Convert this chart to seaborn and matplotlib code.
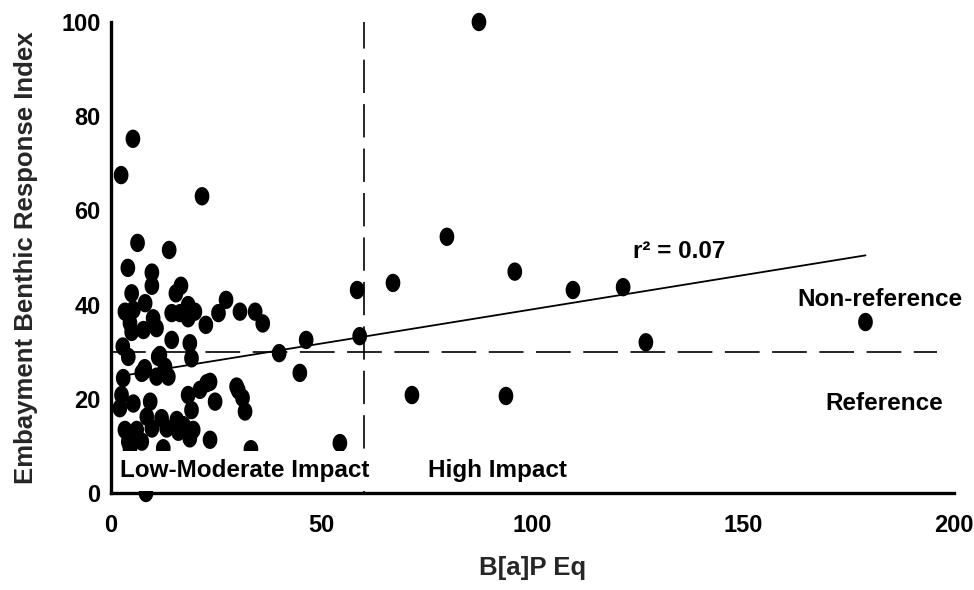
import numpy as np
import pandas as pd
import seaborn as sns
import matplotlib.pyplot as plt
from matplotlib.path import Path

# B[a]P equivalents (x) and Embayment Benthic Response Index (y) per station
bap_eq = [
    2.4, 5.2, 21.6, 6.3, 13.8, 4.0, 9.7, 9.7, 16.6, 15.4,
    4.9, 8.1, 3.3, 5.3, 4.5, 4.9, 7.7, 10.0, 10.8, 14.4,
    16.4, 18.3, 19.9, 18.3, 22.5, 25.5, 27.3, 30.6, 34.2, 36.0,
    14.4, 18.7, 19.1, 11.6, 12.8, 2.8, 4.1, 39.9, 2.9, 7.7,
    10.8, 13.6, 23.5, 29.8, 2.5, 2.1, 5.3, 9.3, 18.3, 21.1,
    24.7, 30.2, 31.2, 31.8, 8.5, 12.0, 15.6, 19.1, 3.3, 6.1,
    9.7, 13.2, 16.0, 17.2, 19.5, 18.7, 23.5, 4.1, 7.3, 12.4,
    4.5, 33.2, 8.3, 54.3, 44.8, 46.3, 59.0, 58.4, 66.9, 79.7,
    87.3, 95.8, 109.6, 121.5, 126.9, 179.0, 71.4, 93.7, 22.7, 7.3,
    11.2, 8.0,
]
ebri = [
    67.5, 75.2, 63.0, 53.1, 51.6, 47.8, 46.8, 44.0, 44.0, 42.4,
    42.4, 40.3, 38.5, 38.9, 36.1, 34.2, 34.6, 37.1, 35.0, 38.2,
    38.2, 39.9, 38.5, 37.1, 35.7, 38.2, 41.0, 38.5, 38.5, 36.0,
    32.5, 31.8, 28.6, 29.3, 26.8, 31.1, 28.9, 29.7, 24.4, 25.8,
    24.7, 24.7, 23.6, 22.6, 20.8, 18.0, 19.0, 19.4, 20.8, 21.9,
    19.4, 21.8, 20.2, 17.3, 16.2, 15.9, 15.5, 17.6, 13.4, 13.4,
    13.7, 13.7, 13.0, 14.4, 13.4, 11.6, 11.3, 10.9, 10.9, 9.5,
    9.5, 9.3, 0.0, 10.6, 25.5, 32.5, 33.3, 43.1, 44.6, 54.4,
    100.0, 47.0, 43.1, 43.7, 32.0, 36.3, 20.8, 20.6, 23.3, 25.5,
    28.9, 26.5,
]

# Least-squares fit reported on the chart
fit_intercept = 24.5
fit_slope = 0.145
r_squared = 0.07

# Classification thresholds
reference_threshold = 30   # EBRI: reference / non-reference
impact_threshold = 60      # B[a]P Eq: low-moderate / high impact

x_ticks = [0, 50, 100, 150, 200]
y_ticks = [0, 20, 40, 60, 80, 100]

df = pd.DataFrame({"bap": bap_eq, "ebri": ebri})

sns.set_style("white")
plt.rcParams["font.family"] = ["Liberation Sans", "DejaVu Sans"]
plt.rcParams["font.weight"] = "bold"
plt.rcParams["lines.scale_dashes"] = False

fig = plt.figure(figsize=(9.74, 5.9), dpi=100)
ax = fig.add_axes([111 / 974, 1 - 493 / 590, (954 - 111) / 974, (493 - 22) / 590])

# slightly tall elliptical dot
theta = np.linspace(0, 2 * np.pi, 61)
ellipse = Path(np.column_stack([0.8 * np.cos(theta), np.sin(theta)]), closed=True)

sns.scatterplot(data=df, x="bap", y="ebri", marker=ellipse, s=175,
                color="black", edgecolor="none", linewidth=0,
                ax=ax, clip_on=False, zorder=2, legend=False)

# regression line over the observed range
fit_x = np.array([df["bap"].min(), df["bap"].max()])
fit_df = pd.DataFrame({"x": fit_x, "y": fit_intercept + fit_slope * fit_x})
sns.lineplot(data=fit_df, x="x", y="y", color="black", linewidth=1.3,
             ax=ax, zorder=3)

# threshold lines
ax.axhline(reference_threshold, xmin=0, xmax=0.98, color="black",
           linewidth=1.2, linestyle=(0, (25, 9)), zorder=1)
ax.axvline(impact_threshold, ymin=0, ymax=1, color="black",
           linewidth=1.2, linestyle=(0, (24, 8)), zorder=1)

ax.set_xlim(0, 200)
ax.set_ylim(0, 100)
ax.set_xticks(x_ticks)
ax.set_yticks(y_ticks)
ax.tick_params(direction="out", length=5, width=1.5, labelsize=17,
               colors="black")
ax.tick_params(axis="x", pad=10)
ax.tick_params(axis="y", pad=2.5)
for lab in ax.get_xticklabels() + ax.get_yticklabels():
    lab.set_fontweight("bold")

for side in ["top", "right"]:
    ax.spines[side].set_visible(False)
for side in ["left", "bottom"]:
    ax.spines[side].set_linewidth(2.4)
    ax.spines[side].set_color("black")
    ax.spines[side].set_zorder(5)

ax.set_xlabel("B[a]P Eq", fontsize=18.5, fontweight="bold", labelpad=14)
ax.set_ylabel("Embayment Benthic Response Index", fontsize=18.5,
              fontweight="bold", labelpad=17)

txt = dict(fontsize=17.5, fontweight="bold", color="black")
ax.text(123.8, 51.2, f"r\u00b2 = {r_squared:.2f}", va="center", ha="left", **txt)
ax.text(202.0, 41.0, "Non-reference", va="center", ha="right", clip_on=False, **txt)
ax.text(169.6, 18.9, "Reference", va="center", ha="left", **txt)
ax.text(2.1, 4.7, "Low-Moderate Impact", va="center", ha="left", zorder=4,
        bbox=dict(boxstyle="square,pad=0.35", facecolor="white", edgecolor="none"),
        **txt)
ax.text(75.2, 4.7, "High Impact", va="center", ha="left", zorder=4, **txt)

fig.savefig("out.png", dpi=100, facecolor="white")
